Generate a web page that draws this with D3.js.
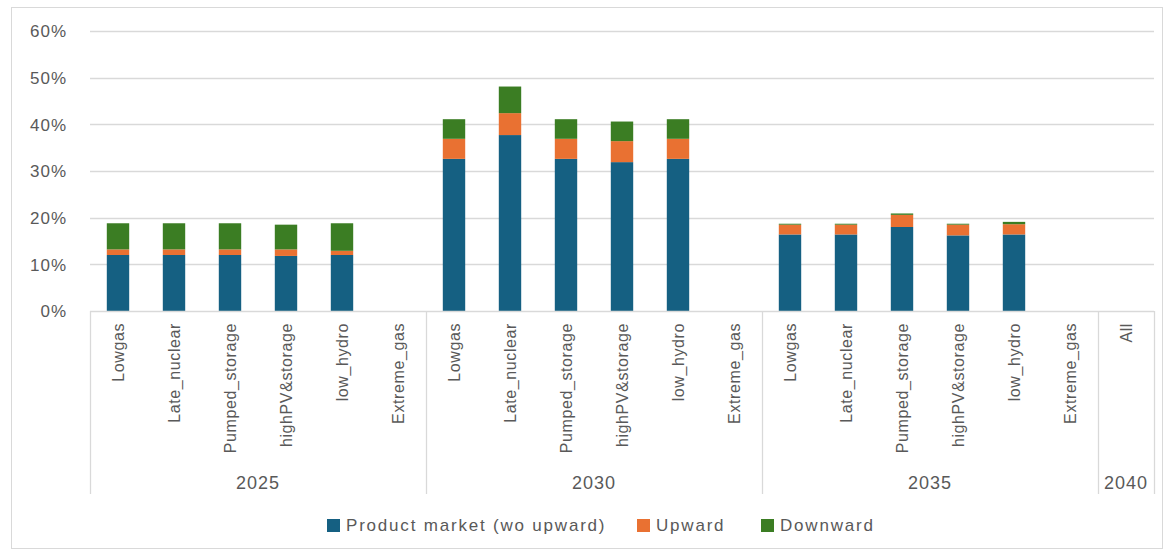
<!DOCTYPE html>
<html>
<head>
<meta charset="utf-8">
<script src="https://cdn.jsdelivr.net/npm/d3@7/dist/d3.min.js"></script>
<style>
  html, body { margin: 0; padding: 0; background: #fff; }
  svg { display: block; }
  text { font-family: "Liberation Sans", Arial, sans-serif; fill: #595959; }
</style>
</head>
<body>
<svg id="chart" width="1167" height="551"></svg>
<script>
// Year groups and the scenario under each category slot
const categoryYears = [
  "2025","2025","2025","2025","2025","2025",
  "2030","2030","2030","2030","2030","2030",
  "2035","2035","2035","2035","2035","2035",
  "2040"
];
const categoryNames = [
  "Lowgas","Late_nuclear","Pumped_storage","highPV&storage","low_hydro","Extreme_gas",
  "Lowgas","Late_nuclear","Pumped_storage","highPV&storage","low_hydro","Extreme_gas",
  "Lowgas","Late_nuclear","Pumped_storage","highPV&storage","low_hydro","Extreme_gas",
  "All"
];

// Shares (fraction of total) per category, stacked in this order
const productMarket = [
  0.120, 0.120, 0.120, 0.118, 0.120, 0,
  0.326, 0.377, 0.326, 0.319, 0.326, 0,
  0.164, 0.164, 0.180, 0.162, 0.164, 0,
  0
];
const upward = [
  0.012, 0.012, 0.012, 0.014, 0.009, 0,
  0.043, 0.047, 0.043, 0.045, 0.043, 0,
  0.021, 0.021, 0.026, 0.023, 0.022, 0,
  0
];
const downward = [
  0.056, 0.056, 0.056, 0.053, 0.059, 0,
  0.042, 0.057, 0.042, 0.042, 0.042, 0,
  0.002, 0.002, 0.003, 0.002, 0.005, 0,
  0
];

const seriesNames = ["Product market (wo upward)", "Upward", "Downward"];
const seriesColors = ["#156082", "#E97132", "#3B7D23"];
const yTicks = [0, 0.1, 0.2, 0.3, 0.4, 0.5, 0.6];

const svg = d3.select("#chart");
const plot = { left: 90, right: 1154, top: 31, bottom: 311 };

// Outer chart frame
svg.append("rect")
  .attr("x", 11.5).attr("y", 7.5)
  .attr("width", 1151).attr("height", 541)
  .attr("fill", "#fff").attr("stroke", "#d9d9d9").attr("stroke-width", 1);

const keys = categoryNames.map((n, i) => categoryYears[i] + "|" + n + "|" + i);
const rows = keys.map((k, i) => ({
  key: k,
  s0: productMarket[i],
  s1: upward[i],
  s2: downward[i]
}));

const x = d3.scaleBand()
  .domain(keys)
  .range([plot.left, plot.right])
  .paddingInner(0.6)
  .paddingOuter(0.3);

const y = d3.scaleLinear()
  .domain([0, 0.6])
  .range([plot.bottom, plot.top]);

// Horizontal gridlines
svg.append("g")
  .selectAll("line")
  .data(yTicks.filter(t => t > 0))
  .join("line")
  .attr("x1", plot.left).attr("x2", plot.right)
  .attr("y1", d => Math.round(y(d)) + 0.5).attr("y2", d => Math.round(y(d)) + 0.5)
  .attr("stroke", "#d9d9d9").attr("stroke-width", 1.3);

// Y axis labels
const yAxis = d3.axisLeft(y).tickValues(yTicks).tickFormat(d3.format(".0%")).tickSize(0).tickPadding(0);
const yg = svg.append("g").attr("transform", `translate(${67},0)`).call(yAxis);
yg.select(".domain").remove();
yg.selectAll("text")
  .attr("font-family", "Liberation Sans, Arial, sans-serif")
  .attr("font-size", 17)
  .attr("letter-spacing", 1)
  .attr("fill", "#595959")
  .attr("dy", "0.35em");

// Stacked bars
const stack = d3.stack().keys(["s0", "s1", "s2"]);
const stacked = stack(rows);

svg.append("g")
  .selectAll("g")
  .data(stacked)
  .join("g")
  .attr("fill", (d, i) => seriesColors[i])
  .selectAll("rect")
  .data(d => d.filter(p => p[1] - p[0] > 0))
  .join("rect")
  .attr("x", d => x(d.data.key))
  .attr("width", x.bandwidth())
  .attr("y", d => y(d[1]))
  .attr("height", d => y(d[0]) - y(d[1]));

// Category axis baseline
svg.append("line")
  .attr("x1", plot.left).attr("x2", plot.right)
  .attr("y1", plot.bottom + 0.5).attr("y2", plot.bottom + 0.5)
  .attr("stroke", "#d9d9d9").attr("stroke-width", 1.3);

const step = x.step();
const cellLeft = k => x(k) + x.bandwidth() / 2 - step / 2;

// Year group separators
const years = Array.from(new Set(categoryYears));
const groups = years.map(yr => {
  const idx = categoryYears.map((c, i) => c === yr ? i : -1).filter(i => i >= 0);
  const x0 = cellLeft(keys[idx[0]]);
  const x1 = cellLeft(keys[idx[idx.length - 1]]) + step;
  return { year: yr, x0, x1 };
});
const sepXs = groups.map(g => g.x0).concat([groups[groups.length - 1].x1]);
svg.append("g")
  .selectAll("line")
  .data(sepXs)
  .join("line")
  .attr("x1", d => Math.round(d) + 0.5).attr("x2", d => Math.round(d) + 0.5)
  .attr("y1", plot.bottom).attr("y2", 494)
  .attr("stroke", "#d9d9d9").attr("stroke-width", 1.3);

// Scenario labels (rotated)
svg.append("g")
  .selectAll("text")
  .data(keys)
  .join("text")
  .attr("transform", (k, i) => `translate(${x(k) + x.bandwidth() / 2 + 6},${323}) rotate(-90)`)
  .attr("text-anchor", "end")
  .attr("font-size", 16)
  .attr("letter-spacing", 0.6)
  .text((k, i) => categoryNames[i]);

// Year labels
svg.append("g")
  .selectAll("text")
  .data(groups)
  .join("text")
  .attr("x", d => (d.x0 + d.x1) / 2)
  .attr("y", 489)
  .attr("text-anchor", "middle")
  .attr("font-size", 18)
  .attr("letter-spacing", 1)
  .text(d => d.year);

// Legend
const legendX = [327, 637, 761];
const lg = svg.append("g");
seriesNames.forEach((name, i) => {
  lg.append("rect")
    .attr("x", legendX[i]).attr("y", 519)
    .attr("width", 13).attr("height", 13)
    .attr("fill", seriesColors[i]);
  lg.append("text")
    .attr("x", legendX[i] + 19).attr("y", 531)
    .attr("font-size", 17)
    .attr("letter-spacing", 1.8)
    .text(name);
});
</script>
</body>
</html>
